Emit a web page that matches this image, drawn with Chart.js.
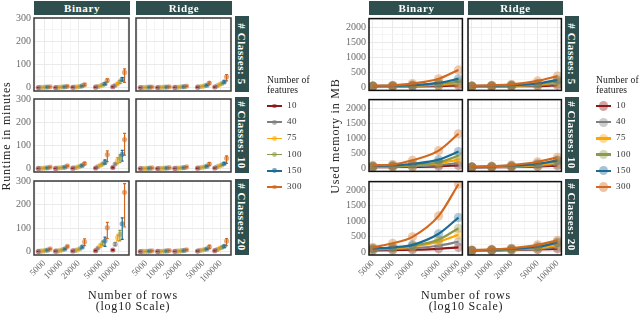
<!DOCTYPE html>
<html>
<head>
<meta charset="utf-8">
<script src="https://cdn.jsdelivr.net/npm/chart.js"></script>
<style>
body{margin:0;background:#fff;}
#wrap{position:relative;width:640px;height:313px;overflow:hidden;font-family:"Liberation Serif","DejaVu Serif",serif;color:#222;}
.strip{position:absolute;background:#2F4F4F;color:#fff;font-weight:bold;font-size:11px;letter-spacing:0.6px;display:flex;align-items:center;justify-content:center;white-space:nowrap;}
.strip.side span{display:block;transform:rotate(90deg);}
.txt{position:absolute;white-space:nowrap;}
.ytitle{position:absolute;width:200px;height:14px;line-height:14px;text-align:center;font-size:12px;color:#222;letter-spacing:0.8px;white-space:nowrap;transform:rotate(-90deg);}
.xtitle{position:absolute;font-size:12px;letter-spacing:0.8px;text-align:center;line-height:11px;transform:translateX(-50%);white-space:nowrap;}
.legtitle{position:absolute;font-size:9.6px;line-height:10px;letter-spacing:0.1px;white-space:nowrap;}
.leglab{position:absolute;font-size:9px;color:#333;letter-spacing:0.5px;white-space:nowrap;}
</style>
</head>
<body>
<div id="wrap"></div>
<script>
// categories and labels
const rowsN = [5000, 10000, 20000, 50000, 100000];
const features = ['10', '40', '75', '100', '150', '300'];
const featureColors = ['#8B1A1A', '#7F7F7F', '#FFA500', '#8E9A4A', '#1D6A96', '#D2691E'];
const modelNames = ['Binary', 'Ridge'];
const classNames = ['# Classes: 5', '# Classes: 10', '# Classes: 20'];
const runTicks = [0, 100, 200, 300];
const memTicks = [0, 500, 1000, 1500, 2000];

// runtime in minutes (one row per feature count, columns = rowsN)
const runBin5 = [[0.5,0.8,1.5,2,4],[1,1.5,2.5,5,10],[1.5,2,3.5,8,17],[2,3,5,12,25],[3,4,8,17,36],[4,6,13,32,66]];
const runBin5Lo = [[0.2,0.5,1,1.5,3],[0.7,1.1,2,4,8],[1.1,1.6,2.8,6.5,13],[1.5,2.4,4,10,19],[2.4,3.2,6.5,13,28],[3,4.5,9,25,23]];
const runBin5Hi = [[0.8,1.1,2,2.5,5],[1.3,1.9,3,6,12],[1.9,2.4,4.2,9.5,21],[2.5,3.6,6,14,31],[3.6,4.8,9.5,21,44],[5,7.5,17,38,81]];

const runRid5 = [[0.5,0.7,1,2,3],[0.8,1.2,1.8,4,8],[1.2,1.6,2.5,6,13],[1.5,2,3.5,8,18],[2,2.8,4.5,11,25],[3,4,7,20,47]];
const runRid5Lo = [[0.3,0.5,0.8,1.5,2.5],[0.6,1,1.5,3.3,6.5],[1,1.3,2.1,5,11],[1.2,1.7,3,6.8,15],[1.7,2.4,3.8,9,21],[2.5,3.4,6,15,29]];
const runRid5Hi = [[0.7,0.9,1.2,2.5,3.5],[1,1.4,2.1,4.7,9.5],[1.4,1.9,2.9,7,15],[1.8,2.3,4,9.5,21],[2.3,3.2,5.2,13,29],[3.5,4.6,8,25,57]];

const runBin10 = [[1,1,2,3,5],[1.5,3,4,9,20],[2,4,7,15,35],[3,5,10,20,45],[4,7,14,28,62],[7,12,22,61,126]];
const runBin10Lo = [[0.7,0.7,1.5,2,3.5],[1.2,2.5,3.3,7.5,16],[1.6,3.4,6,12,22],[2.5,4.3,8.5,17,26],[3.3,6,12,20,33],[6,10,17,30,59]];
const runBin10Hi = [[1.3,1.3,2.5,4,6.5],[1.8,3.5,4.7,10.5,24],[2.4,4.6,8,18,48],[3.5,5.7,11.5,23,60],[4.7,8,16,38,79],[8,14,27,77,153]];

const runRid10 = [[0.5,0.8,1.2,2,3],[0.8,1.2,2,4,8],[1.2,1.7,2.8,6,12],[1.6,2.2,3.6,8,16],[2.2,3,4.8,11,22],[3.2,4.3,7.5,20,45]];
const runRid10Lo = [[0.3,0.6,1,1.5,2.5],[0.6,1,1.7,3.3,6.5],[1,1.4,2.4,5,10],[1.3,1.9,3.1,6.8,13],[1.9,2.6,4.1,9,18],[2.7,3.6,6.4,14,23]];
const runRid10Hi = [[0.7,1,1.4,2.5,3.5],[1,1.4,2.3,4.7,9.5],[1.4,2,3.2,7,14],[1.9,2.5,4.1,9.5,19],[2.5,3.4,5.5,13,26],[3.7,5,8.6,26,55]];

const runBin20 = [[1,2,3,4,7],[2,3,5,15,32],[3,5,8,25,60],[5,8,12,35,74],[7,12,20,46,119],[12,22,42,102,253]];
const runBin20Lo = [[0.6,1.5,2.5,3,5],[1.5,2.5,4,12,25],[2.5,4,6.5,18,46],[4,7,10,25,46],[6,10,16,22,52],[10,19,25,56,105]];
const runBin20Hi = [[1.4,2.5,3.5,5,9],[2.5,3.5,6,18,39],[3.5,6,9.5,32,71],[6,9,14,45,91],[8,14,24,62,144],[14,25,55,125,290]];

const runRid20 = [[0.5,0.8,1.2,2.5,4],[0.8,1.2,2,5,9],[1.2,1.7,3,7,14],[1.6,2.2,4,9,18],[2.2,3,5,12,23],[3.5,4.5,8,20,45]];
const runRid20Lo = [[0.3,0.6,1,2,3],[0.6,1,1.7,4,7],[1,1.4,2.5,5.8,11],[1.3,1.9,3.4,7.5,14],[1.9,2.6,4.3,10,18],[3,3.8,6.8,14,25]];
const runRid20Hi = [[0.7,1,1.4,3,5],[1,1.4,2.3,6,11],[1.4,2,3.5,8.2,17],[1.9,2.5,4.6,10.5,22],[2.5,3.4,5.7,14,28],[4,5.2,9.2,27,56]];

// used memory in MB (one row per feature count, columns = rowsN)
const memBin5 = [[30,30,35,45,60],[35,40,50,75,110],[40,45,60,100,150],[40,50,65,125,190],[45,55,75,150,285],[50,70,125,285,580]];
const memRid5 = [[30,32,36,45,70],[35,40,50,70,120],[38,45,58,95,160],[40,48,62,110,200],[45,55,75,130,250],[50,70,100,215,375]];
const memBin10 = [[40,45,50,70,100],[50,60,75,110,180],[60,70,100,170,290],[65,80,110,200,420],[80,100,150,290,560],[100,130,270,590,1150]];
const memRid10 = [[35,38,45,60,90],[40,45,55,80,150],[45,50,65,110,200],[45,55,75,130,280],[50,65,90,150,260],[55,75,110,220,370]];
const memBin20 = [[50,60,70,100,150],[70,90,120,200,330],[90,120,170,330,560],[100,130,200,400,770],[110,150,230,590,1115],[150,280,490,1170,2200]];
const memRid20 = [[40,50,60,80,100],[45,55,70,100,160],[45,60,80,120,230],[50,65,90,140,330],[55,70,100,170,300],[60,80,120,230,380]];

const runSets = [[runBin5, runRid5], [runBin10, runRid10], [runBin20, runRid20]];
const runLoSets = [[runBin5Lo, runRid5Lo], [runBin10Lo, runRid10Lo], [runBin20Lo, runRid20Lo]];
const runHiSets = [[runBin5Hi, runRid5Hi], [runBin10Hi, runRid10Hi], [runBin20Hi, runRid20Hi]];
const memSets = [[memBin5, memRid5], [memBin10, memRid10], [memBin20, memRid20]];

Chart.defaults.font.family = '"Liberation Serif", "DejaVu Serif", serif';
const wrap = document.getElementById('wrap');

function rgba(hex, a) {
    const n = parseInt(hex.slice(1), 16);
    return 'rgba(' + (n >> 16) + ',' + ((n >> 8) & 255) + ',' + (n & 255) + ',' + a + ')';
}

const errorBars = {
    id: 'errorBars',
    beforeDatasetsDraw(chart) {
        const ctx = chart.ctx, xs = chart.scales.x, ys = chart.scales.y;
        chart.data.datasets.forEach(function(ds) {
            if (!ds.lo) return;
            ctx.save();
            ctx.strokeStyle = ds.barColor;
            ctx.lineWidth = 1.2;
            ds.data.forEach(function(p, i) {
                const x = xs.getPixelForValue(p.x);
                const y1 = ys.getPixelForValue(ds.lo[i]);
                const y2 = ys.getPixelForValue(ds.hi[i]);
                ctx.beginPath();
                ctx.moveTo(x, y1); ctx.lineTo(x, y2);
                ctx.moveTo(x - 1.5, y1); ctx.lineTo(x + 1.5, y1);
                ctx.moveTo(x - 1.5, y2); ctx.lineTo(x + 1.5, y2);
                ctx.stroke();
            });
            ctx.restore();
        });
    }
};

const frame = {
    id: 'frame',
    afterDraw(chart, args, opts) {
        const a = chart.chartArea, ctx = chart.ctx;
        ctx.save();
        ctx.strokeStyle = opts.color;
        ctx.lineWidth = 1.5;
        ctx.strokeRect(a.left, a.top, a.right - a.left, a.bottom - a.top);
        ctx.restore();
    }
};

function minorsOf(majors, lo, hi) {
    const out = [];
    const ext = [2 * majors[0] - majors[1]].concat(majors, [2 * majors[majors.length - 1] - majors[majors.length - 2]]);
    for (let i = 0; i < ext.length - 1; i++) {
        const m = (ext[i] + ext[i + 1]) / 2;
        if (m > lo && m < hi) out.push(m);
    }
    return out;
}

const logRows = rowsN.map(r => Math.log10(r));

function facet(o) {
    const YW = 32, XH = o.bottom ? 46 : 0;
    const cv = document.createElement('canvas');
    const w = o.w + YW + 3, h = o.h + 2 + (o.bottom ? XH : 3);
    cv.width = w; cv.height = h;
    cv.style.cssText = 'position:absolute;left:' + (o.x - YW) + 'px;top:' + (o.y - 2) + 'px;width:' + w + 'px;height:' + h + 'px;';
    wrap.appendChild(cv);
    const xTicks = logRows.concat(minorsOf(logRows, o.xMin, o.xMax));
    const yTicks = o.yTicks.concat(minorsOf(o.yTicks, o.yMin, o.yMax));
    const isMajorX = v => logRows.some(r => Math.abs(r - v) < 1e-9);
    const isMajorY = v => o.yTicks.indexOf(v) >= 0;
    new Chart(cv, {
        type: 'scatter',
        data: { datasets: o.datasets },
        options: {
            responsive: false,
            animation: false,
            layout: { padding: { left: 0, right: 3, top: 2, bottom: o.bottom ? 0 : 3 } },
            plugins: { legend: { display: false }, tooltip: { enabled: false }, frame: { color: o.frameColor } },
            scales: {
                x: {
                    type: 'linear', min: o.xMin, max: o.xMax,
                    afterBuildTicks: s => { s.ticks = xTicks.map(v => ({ value: v })); },
                    afterFit: s => { s.height = XH; s.paddingLeft = 0; s.paddingRight = 0; },
                    border: { display: false },
                    grid: { drawTicks: false, color: c => isMajorX(c.tick.value) ? '#EAEAEA' : '#F3F3F3', lineWidth: c => isMajorX(c.tick.value) ? 1 : 0.8 },
                    ticks: {
                        display: o.bottom, autoSkip: false, minRotation: 45, maxRotation: 45, padding: 3,
                        color: '#6B6B6B', font: { size: 9 },
                        callback: v => { const i = logRows.findIndex(r => Math.abs(r - v) < 1e-9); return i >= 0 ? String(rowsN[i]) : ''; }
                    }
                },
                y: {
                    type: 'linear', min: o.yMin, max: o.yMax,
                    afterBuildTicks: s => { s.ticks = yTicks.map(v => ({ value: v })); },
                    afterFit: s => { s.width = YW; s.paddingTop = 0; s.paddingBottom = 0; },
                    border: { display: false },
                    grid: { drawTicks: false, color: c => isMajorY(c.tick.value) ? '#EAEAEA' : '#F3F3F3', lineWidth: c => isMajorY(c.tick.value) ? 1 : 0.8 },
                    ticks: {
                        display: o.left, autoSkip: false, padding: 3, color: '#6B6B6B', font: { size: 10 },
                        callback: v => isMajorY(v) ? String(v) : ''
                    }
                }
            }
        },
        plugins: [errorBars, frame]
    });
}

function div(cls, text, css) {
    const d = document.createElement('div');
    d.className = cls;
    d.innerHTML = text;
    d.style.cssText = css;
    wrap.appendChild(d);
    return d;
}

const rowTops = [16, 97, 179];
const rowH = 76;

// runtime panel
const runCols = [34, 136];
const runW = 96;
const runXMin = 3.52, runXMax = 5.18;
for (let r = 0; r < 3; r++) {
    for (let c = 0; c < 2; c++) {
        const mean = runSets[r][c], lo = runLoSets[r][c], hi = runHiSets[r][c];
        const datasets = features.map((f, i) => ({
            label: f,
            data: rowsN.map((n, j) => ({ x: Math.log10(n) + (i - 2.5) * 0.041, y: mean[i][j] })),
            lo: lo[i], hi: hi[i],
            barColor: featureColors[i],
            pointRadius: 2.6, pointBorderWidth: 0,
            pointBackgroundColor: rgba(featureColors[i], 0.55),
            order: 5 - i
        }));
        facet({ x: runCols[c], y: rowTops[r], w: runW, h: rowH, left: c === 0, bottom: r === 2,
            xMin: runXMin, xMax: runXMax, yMin: -14.4, yMax: 301.4, yTicks: runTicks,
            datasets: datasets, frameColor: '#3A3A3A' });
    }
}

// memory panel
const memCols = [369, 468];
const memW = 95;
const memXMin = 3.64, memXMax = 5.06;
for (let r = 0; r < 3; r++) {
    for (let c = 0; c < 2; c++) {
        const vals = memSets[r][c];
        const datasets = features.map((f, i) => ({
            label: f,
            data: rowsN.map((n, j) => ({ x: Math.log10(n), y: vals[i][j] })),
            showLine: true,
            borderColor: featureColors[i], borderWidth: 2.2,
            cubicInterpolationMode: 'monotone',
            pointRadius: 4.6, pointBorderWidth: 0,
            pointBackgroundColor: rgba(featureColors[i], 0.35),
            order: 5 - i
        }));
        facet({ x: memCols[c], y: rowTops[r], w: memW, h: rowH, left: c === 0, bottom: r === 2,
            xMin: memXMin, xMax: memXMax, yMin: -100, yMax: 2285, yTicks: memTicks,
            datasets: datasets, frameColor: '#111' });
    }
}

// strips
modelNames.forEach((m, c) => {
    div('strip', m, 'left:' + runCols[c] + 'px;top:1px;width:' + runW + 'px;height:14px;');
    div('strip', m, 'left:' + memCols[c] + 'px;top:1px;width:' + memW + 'px;height:14px;');
});
classNames.forEach((t, r) => {
    div('strip side', '<span>' + t + '</span>', 'left:235px;top:' + rowTops[r] + 'px;width:14px;height:' + rowH + 'px;');
    div('strip side', '<span>' + t + '</span>', 'left:565px;top:' + rowTops[r] + 'px;width:14px;height:' + rowH + 'px;');
});

// axis titles (200x14 boxes rotated about their centre)
div('ytitle', 'Runtime in minutes', 'left:' + (6 - 100) + 'px;top:' + (136 - 7) + 'px;');
div('ytitle', 'Used memory in MB', 'left:' + (335 - 100) + 'px;top:' + (136 - 7) + 'px;');
div('xtitle', 'Number of rows<br>(log10 Scale)', 'left:133px;top:290px;');
div('xtitle', 'Number of rows<br>(log10 Scale)', 'left:466px;top:290px;');

// legends
function legend(x, big) {
    div('legtitle', 'Number of<br>features', 'left:' + x + 'px;top:75px;');
    features.forEach((f, i) => {
        const cy = 106 + i * 16.2;
        const col = featureColors[i];
        div('txt', '', 'left:' + x + 'px;top:' + (cy - (big ? 1.25 : 0.75)) + 'px;width:15px;height:' + (big ? 2.5 : 1.5) + 'px;background:' + col + ';');
        const rad = big ? 4.6 : 2.4;
        div('txt', '', 'left:' + (x + 7.5 - rad) + 'px;top:' + (cy - rad) + 'px;width:' + (2 * rad) + 'px;height:' + (2 * rad) + 'px;border-radius:50%;background:' + rgba(col, big ? 0.4 : 0.6) + ';');
        div('leglab', f, 'left:' + (x + 20) + 'px;top:' + (cy - 6) + 'px;');
    });
}
legend(267, false);
legend(596, true);
</script>
</body>
</html>
